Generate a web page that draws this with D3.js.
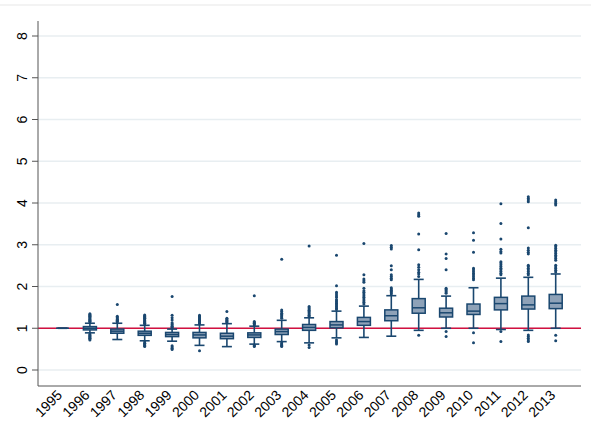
<!DOCTYPE html>
<html>
<head>
<meta charset="utf-8">
<script src="https://cdn.jsdelivr.net/npm/d3@7"></script>
<style>
  body { margin: 0; background: #fff; }
  svg text { font-family: "Liberation Sans", Arial, sans-serif; fill: #000; }
</style>
</head>
<body>
<div id="chart"></div>
<script>
const years = ['1995','1996','1997','1998','1999','2000','2001','2002','2003','2004',
  '2005','2006','2007','2008','2009','2010','2011','2012','2013'];
const q1 = [1.00, 0.96, 0.88, 0.83, 0.80, 0.77, 0.75, 0.78, 0.85, 0.95, 1.01, 1.07, 1.18, 1.36, 1.27, 1.33, 1.44, 1.46, 1.47];
const median = [1.00, 1.00, 0.93, 0.88, 0.85, 0.84, 0.81, 0.84, 0.92, 1.02, 1.08, 1.16, 1.30, 1.49, 1.37, 1.41, 1.59, 1.56, 1.60];
const q3 = [1.00, 1.04, 0.98, 0.93, 0.90, 0.90, 0.88, 0.89, 0.98, 1.09, 1.16, 1.26, 1.44, 1.71, 1.48, 1.58, 1.74, 1.77, 1.81];
const whiskLo = [1.00, 0.89, 0.73, 0.70, 0.69, 0.59, 0.56, 0.62, 0.68, 0.65, 0.77, 0.78, 0.81, 0.95, 1.00, 1.00, 0.97, 0.95, 1.00];
const whiskHi = [1.00, 1.12, 1.12, 1.07, 0.98, 1.08, 1.11, 1.05, 1.19, 1.25, 1.41, 1.53, 1.78, 2.17, 1.77, 1.97, 2.20, 2.22, 2.30];
const outliers = [
  [],
  [1.15,1.17,1.19,1.21,1.23,1.25,1.27,1.29,1.31,1.33,1.35, 0.86,0.84,0.82,0.80,0.78,0.76,0.74,0.72],
  [1.15,1.17,1.19,1.21,1.23,1.26,1.29,1.57],
  [1.10,1.12,1.14,1.16,1.18,1.20,1.22,1.24,1.26,1.28,1.30,1.32, 0.67,0.64,0.62,0.60,0.58,0.56],
  [1.01,1.03,1.05,1.08,1.10,1.13,1.20,1.25,1.31,1.76, 0.58,0.55,0.52,0.49],
  [1.11,1.13,1.15,1.17,1.19,1.21,1.23,1.25,1.27,1.29,1.31, 0.46],
  [1.14,1.16,1.18,1.20,1.22,1.24,1.40],
  [1.08,1.10,1.12,1.14,1.16,1.78, 0.60,0.58,0.56],
  [1.24,1.27,1.30,1.33,1.36,1.40,1.44,2.65, 0.65,0.62,0.60,0.58,0.56],
  [1.28,1.31,1.34,1.37,1.40,1.43,1.46,1.49,1.52,2.97, 0.60,0.54],
  [1.45,1.48,1.51,1.54,1.57,1.60,1.63,1.66,1.69,1.74,1.78,1.82,1.86,2.02,2.75, 0.72,0.68,0.65,0.62],
  [1.58,1.62,1.66,1.70,1.74,1.78,1.82,1.86,1.90,1.96,2.10,2.14,2.18,2.28,3.03],
  [1.82,1.85,1.88,1.91,1.94,1.97,2.16,2.20,2.24,2.28,2.40,2.50,2.90,2.94,2.98],
  [2.24,2.30,2.34,2.40,2.46,2.52,2.88,3.26,3.68,3.72,3.76, 0.83],
  [1.84,1.87,1.90,1.93,1.96,2.40,2.67,2.78,3.27, 0.92,0.80],
  [2.16,2.20,2.24,2.28,2.32,2.36,2.40,2.44,2.82,3.11,3.29, 0.89,0.65],
  [2.28,2.32,2.36,2.40,2.44,2.48,2.52,2.56,2.59,2.80,2.84,2.89,3.14,3.51,3.98, 0.92,0.68],
  [2.28,2.32,2.36,2.40,2.44,2.48,2.51,2.78,2.82,2.87,2.92,3.41,4.03,4.07,4.11,4.15, 0.84,0.80,0.76,0.72,0.68],
  [2.35,2.39,2.43,2.47,2.51,2.63,2.67,2.71,2.75,2.79,2.83,2.87,2.91,2.95,2.99,3.95,3.99,4.03,4.07, 0.83,0.70]
];
const yTicks = [0, 1, 2, 3, 4, 5, 6, 7, 8];
const refValue = 1;

const width = 591, height = 441;
const plotLeft = 38, plotRight = 581, plotTop = 21, plotBottom = 386;
const navy = '#1a476f';

const svg = d3.select('#chart').append('svg')
  .attr('width', width)
  .attr('height', height);

const x = d3.scalePoint().domain(years).range([62.5, 555.7]);
const y = d3.scaleLinear().domain([0, 8]).range([370, 36]);

// faint frame line at the top
svg.append('line')
  .attr('x1', 0).attr('x2', width).attr('y1', 5).attr('y2', 5)
  .attr('stroke', '#efefef').attr('stroke-width', 1.5);

// grid
svg.append('g').selectAll('line')
  .data(yTicks)
  .join('line')
    .attr('x1', plotLeft).attr('x2', plotRight)
    .attr('y1', d => y(d)).attr('y2', d => y(d))
    .attr('stroke', '#e8eef1').attr('stroke-width', 1.5);

// reference line
svg.append('line')
  .attr('x1', plotLeft).attr('x2', plotRight)
  .attr('y1', y(refValue)).attr('y2', y(refValue))
  .attr('stroke', '#d2103f').attr('stroke-width', 1.5);

const boxes = years.map((yr, i) => ({
  year: yr, q1: q1[i], med: median[i], q3: q3[i],
  lo: whiskLo[i], hi: whiskHi[i], out: outliers[i]
}));

const boxW = 13, capW = 10;
const g = svg.append('g').selectAll('g.box')
  .data(boxes)
  .join('g')
    .attr('class', 'box')
    .attr('transform', d => `translate(${x(d.year)},0)`);

// whiskers
g.append('line')
  .attr('y1', d => y(d.lo)).attr('y2', d => y(d.q1))
  .attr('stroke', navy).attr('stroke-width', 1.6);
g.append('line')
  .attr('y1', d => y(d.q3)).attr('y2', d => y(d.hi))
  .attr('stroke', navy).attr('stroke-width', 1.6);
g.append('line')
  .attr('x1', -capW / 2).attr('x2', capW / 2)
  .attr('y1', d => y(d.lo)).attr('y2', d => y(d.lo))
  .attr('stroke', navy).attr('stroke-width', 1.6);
g.append('line')
  .attr('x1', -capW / 2).attr('x2', capW / 2)
  .attr('y1', d => y(d.hi)).attr('y2', d => y(d.hi))
  .attr('stroke', navy).attr('stroke-width', 1.6);

// box
g.append('rect')
  .attr('x', -boxW / 2).attr('width', boxW)
  .attr('y', d => y(d.q3))
  .attr('height', d => Math.max(0, y(d.q1) - y(d.q3)))
  .attr('fill', '#8ea2b8')
  .attr('stroke', navy).attr('stroke-width', 1.5);
g.append('line')
  .attr('x1', -boxW / 2).attr('x2', boxW / 2)
  .attr('y1', d => y(d.med)).attr('y2', d => y(d.med))
  .attr('stroke', navy).attr('stroke-width', 1.5);

// outside values
g.selectAll('circle')
  .data(d => d.out)
  .join('circle')
    .attr('cy', d => y(d))
    .attr('r', 1.5)
    .attr('fill', navy);

// axes
svg.append('line')
  .attr('x1', plotLeft).attr('x2', plotLeft)
  .attr('y1', plotTop).attr('y2', plotBottom)
  .attr('stroke', '#555').attr('stroke-width', 1);
svg.append('line')
  .attr('x1', plotLeft).attr('x2', plotRight)
  .attr('y1', plotBottom).attr('y2', plotBottom)
  .attr('stroke', '#555').attr('stroke-width', 1);

const yAxis = svg.append('g')
  .selectAll('g')
  .data(yTicks)
  .join('g')
    .attr('transform', d => `translate(0,${y(d)})`);
yAxis.append('line')
  .attr('x1', plotLeft - 6).attr('x2', plotLeft)
  .attr('stroke', '#555');
yAxis.append('text')
  .attr('transform', 'translate(26.5,0) rotate(-90)')
  .attr('text-anchor', 'middle')
  .style('font-size', '14px')
  .text(d => d);

svg.append('g').selectAll('text')
  .data(years)
  .join('text')
    .attr('transform', d => `translate(${x(d) + 0.5},${plotBottom + 10}) rotate(-45)`)
    .attr('text-anchor', 'end')
    .style('font-size', '14px')
    .text(d => d);
</script>
</body>
</html>
